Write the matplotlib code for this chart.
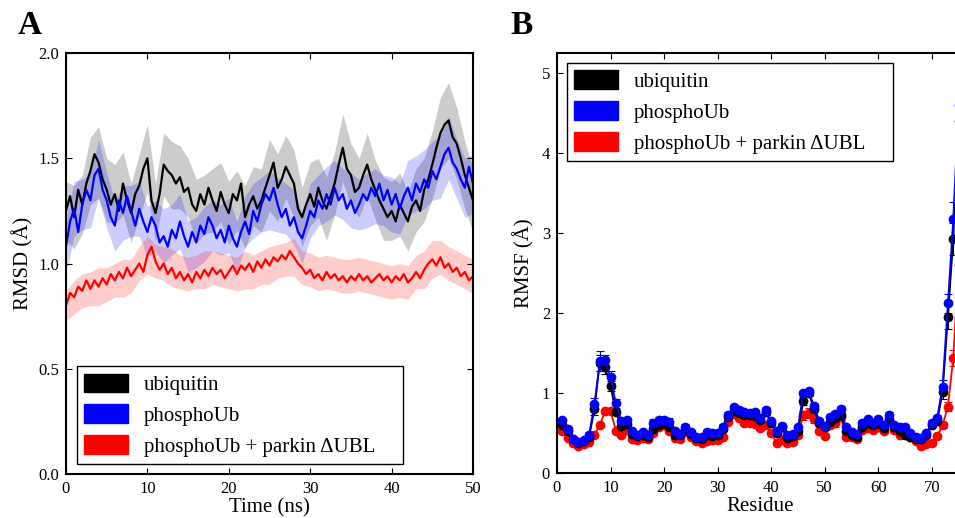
import matplotlib
matplotlib.use('Agg')
import matplotlib.pyplot as plt
from matplotlib.patches import Patch
import numpy as np

plt.rcParams['font.family'] = ['Liberation Serif', 'DejaVu Serif']
plt.rcParams['mathtext.fontset'] = 'stix'

# =========================
# Panel A data: RMSD (A) vs time (ns), every 0.5 ns
# =========================
time_ns = np.arange(0, 50.01, 0.5)

rmsd_ub = [1.25, 1.32, 1.22, 1.35, 1.28, 1.38, 1.44, 1.52, 1.48, 1.40,
           1.35, 1.28, 1.33, 1.25, 1.38, 1.30, 1.24, 1.33, 1.37, 1.45,
           1.50, 1.30, 1.24, 1.33, 1.47, 1.44, 1.42, 1.38, 1.41, 1.34,
           1.36, 1.28, 1.25, 1.33, 1.28, 1.36, 1.30, 1.25, 1.34, 1.28,
           1.24, 1.33, 1.30, 1.38, 1.22, 1.28, 1.32, 1.26, 1.30, 1.36,
           1.42, 1.48, 1.36, 1.40, 1.46, 1.42, 1.38, 1.26, 1.22, 1.28,
           1.33, 1.27, 1.36, 1.30, 1.26, 1.32, 1.38, 1.47, 1.55, 1.45,
           1.42, 1.34, 1.36, 1.42, 1.47, 1.40, 1.35, 1.30, 1.26, 1.22,
           1.25, 1.20, 1.28, 1.24, 1.20, 1.27, 1.30, 1.25, 1.35, 1.40,
           1.47, 1.55, 1.62, 1.66, 1.68, 1.60, 1.57, 1.50, 1.42, 1.36,
           1.30]

rmsd_pub = [1.08, 1.20, 1.26, 1.15, 1.28, 1.35, 1.30, 1.42, 1.45, 1.35,
            1.30, 1.22, 1.18, 1.30, 1.24, 1.32, 1.25, 1.18, 1.26, 1.20,
            1.15, 1.22, 1.18, 1.10, 1.13, 1.08, 1.16, 1.12, 1.20, 1.13,
            1.08, 1.15, 1.10, 1.18, 1.14, 1.22, 1.18, 1.12, 1.16, 1.10,
            1.18, 1.12, 1.08, 1.15, 1.20, 1.14, 1.25, 1.20, 1.28, 1.33,
            1.30, 1.36, 1.28, 1.22, 1.26, 1.18, 1.22, 1.15, 1.12, 1.18,
            1.25, 1.22, 1.30, 1.26, 1.33, 1.28, 1.36, 1.30, 1.33, 1.26,
            1.30, 1.24, 1.28, 1.33, 1.30, 1.36, 1.32, 1.38, 1.30, 1.35,
            1.28, 1.33, 1.26, 1.32, 1.36, 1.30, 1.38, 1.34, 1.40, 1.36,
            1.44, 1.40, 1.46, 1.52, 1.55, 1.48, 1.45, 1.40, 1.36, 1.46,
            1.38]

rmsd_park = [0.80, 0.86, 0.84, 0.89, 0.87, 0.92, 0.88, 0.92, 0.89, 0.93,
             0.90, 0.95, 0.92, 0.96, 0.93, 0.98, 0.94, 0.97, 1.00, 0.96,
             1.04, 1.08, 1.01, 0.97, 1.00, 0.95, 0.98, 0.93, 0.96, 0.92,
             0.95, 0.91, 0.96, 0.93, 0.97, 0.94, 0.98, 0.95, 0.97, 0.93,
             0.96, 0.99, 0.95, 0.99, 0.97, 1.00, 0.96, 1.01, 0.98, 1.02,
             0.99, 1.03, 1.01, 1.04, 1.02, 1.06, 1.03, 1.00, 0.98, 0.95,
             0.97, 0.93, 0.95, 0.92, 0.96, 0.93, 0.95, 0.92, 0.94, 0.91,
             0.94, 0.92, 0.95, 0.92, 0.94, 0.91, 0.93, 0.95, 0.92, 0.94,
             0.91, 0.94, 0.92, 0.95, 0.91, 0.93, 0.96, 0.93, 0.97, 1.00,
             1.02, 0.99, 1.03, 0.98, 1.00, 0.96, 0.98, 0.94, 0.96, 0.92,
             0.94]

# spread of the shaded bands, every 1 ns
band_t = np.arange(0, 50.01, 1.0)
sd_ub = [0.14, 0.15, 0.14, 0.16, 0.17, 0.15, 0.14, 0.15, 0.14, 0.15,
         0.16, 0.14, 0.15, 0.16, 0.15, 0.14, 0.15, 0.14, 0.15, 0.14,
         0.15, 0.14, 0.15, 0.14, 0.15, 0.17, 0.16, 0.15, 0.16, 0.14,
         0.15, 0.14, 0.15, 0.15, 0.16, 0.15, 0.14, 0.15, 0.14, 0.15,
         0.14, 0.15, 0.14, 0.15, 0.15, 0.16, 0.17, 0.18, 0.17, 0.16,
         0.15]
sd_pub = [0.12, 0.13, 0.12, 0.13, 0.14, 0.13, 0.12, 0.13, 0.12, 0.13,
          0.12, 0.12, 0.13, 0.12, 0.13, 0.12, 0.12, 0.13, 0.12, 0.12,
          0.13, 0.12, 0.12, 0.13, 0.13, 0.14, 0.13, 0.12, 0.13, 0.12,
          0.13, 0.12, 0.13, 0.13, 0.12, 0.13, 0.12, 0.13, 0.13, 0.12,
          0.13, 0.12, 0.13, 0.13, 0.14, 0.14, 0.15, 0.15, 0.14, 0.14,
          0.14]
sd_park = [0.07, 0.08, 0.08, 0.08, 0.09, 0.08, 0.08, 0.09, 0.08, 0.08,
           0.09, 0.08, 0.08, 0.09, 0.08, 0.08, 0.08, 0.09, 0.08, 0.08,
           0.08, 0.08, 0.09, 0.08, 0.08, 0.09, 0.08, 0.08, 0.09, 0.08,
           0.08, 0.08, 0.08, 0.08, 0.08, 0.08, 0.08, 0.08, 0.08, 0.08,
           0.08, 0.08, 0.08, 0.08, 0.09, 0.09, 0.08, 0.08, 0.08, 0.08,
           0.08]

# =========================
# Panel B data: RMSF (A) per residue
# =========================
residue = np.arange(1, 77)

rmsf_ub = [0.60, 0.52, 0.42, 0.38, 0.40, 0.45, 0.80, 1.38, 1.32, 1.09,
           0.76, 0.59, 0.61, 0.49, 0.46, 0.47, 0.45, 0.55, 0.60, 0.62,
           0.57, 0.48, 0.47, 0.54, 0.49, 0.44, 0.43, 0.47, 0.46, 0.47,
           0.55, 0.70, 0.77, 0.75, 0.72, 0.72, 0.71, 0.66, 0.76, 0.62,
           0.50, 0.57, 0.44, 0.46, 0.52, 0.90, 1.00, 0.80, 0.62, 0.57,
           0.64, 0.69, 0.73, 0.52, 0.47, 0.45, 0.58, 0.62, 0.60, 0.63,
           0.56, 0.67, 0.57, 0.53, 0.47, 0.45, 0.42, 0.42, 0.48, 0.60,
           0.65, 1.01, 1.95, 2.93, 4.40, 5.00]
rmsf_pub = [0.66, 0.55, 0.42, 0.39, 0.41, 0.48, 0.86, 1.40, 1.41, 1.20,
            0.87, 0.65, 0.66, 0.52, 0.48, 0.51, 0.48, 0.63, 0.66, 0.66,
            0.64, 0.52, 0.49, 0.58, 0.51, 0.45, 0.45, 0.51, 0.50, 0.50,
            0.58, 0.73, 0.82, 0.79, 0.76, 0.75, 0.76, 0.69, 0.79, 0.65,
            0.53, 0.59, 0.47, 0.49, 0.57, 1.00, 1.02, 0.84, 0.65, 0.59,
            0.70, 0.74, 0.80, 0.57, 0.51, 0.49, 0.63, 0.67, 0.63, 0.67,
            0.60, 0.73, 0.60, 0.57, 0.58, 0.50, 0.45, 0.44, 0.50, 0.63,
            0.69, 1.08, 2.12, 3.17, 4.60, 5.10]
rmsf_park = [0.53, 0.44, 0.37, 0.34, 0.36, 0.39, 0.47, 0.60, 0.77, 0.78,
             0.53, 0.48, 0.54, 0.43, 0.41, 0.44, 0.42, 0.50, 0.57, 0.60,
             0.52, 0.44, 0.42, 0.51, 0.45, 0.40, 0.38, 0.40, 0.41, 0.41,
             0.45, 0.64, 0.74, 0.69, 0.62, 0.62, 0.61, 0.56, 0.60, 0.50,
             0.38, 0.41, 0.38, 0.39, 0.48, 0.72, 0.75, 0.67, 0.52, 0.46,
             0.60, 0.62, 0.70, 0.45, 0.45, 0.43, 0.54, 0.56, 0.54, 0.57,
             0.52, 0.65, 0.54, 0.48, 0.49, 0.45, 0.40, 0.34, 0.36, 0.38,
             0.46, 0.60, 0.83, 1.44, 2.60, 3.30]

err_ub = [0.03, 0.03, 0.02, 0.02, 0.02, 0.03, 0.08, 0.10, 0.08, 0.06,
          0.04, 0.03, 0.03, 0.02, 0.02, 0.02, 0.02, 0.03, 0.03, 0.03,
          0.03, 0.02, 0.02, 0.03, 0.02, 0.02, 0.02, 0.02, 0.02, 0.02,
          0.03, 0.03, 0.03, 0.03, 0.03, 0.03, 0.03, 0.03, 0.03, 0.03,
          0.02, 0.03, 0.02, 0.02, 0.03, 0.05, 0.04, 0.04, 0.03, 0.03,
          0.03, 0.04, 0.04, 0.03, 0.02, 0.02, 0.03, 0.03, 0.03, 0.03,
          0.03, 0.03, 0.03, 0.02, 0.02, 0.02, 0.02, 0.02, 0.02, 0.03,
          0.04, 0.08, 0.15, 0.20, 0.25, 0.30]
err_pub = [0.03, 0.03, 0.02, 0.02, 0.02, 0.03, 0.08, 0.12, 0.07, 0.08,
           0.06, 0.03, 0.03, 0.02, 0.02, 0.02, 0.02, 0.04, 0.04, 0.04,
           0.05, 0.02, 0.02, 0.03, 0.02, 0.02, 0.02, 0.03, 0.02, 0.02,
           0.03, 0.03, 0.03, 0.03, 0.03, 0.03, 0.03, 0.03, 0.03, 0.03,
           0.02, 0.03, 0.02, 0.02, 0.03, 0.03, 0.03, 0.03, 0.03, 0.03,
           0.03, 0.03, 0.04, 0.03, 0.02, 0.02, 0.03, 0.03, 0.03, 0.03,
           0.03, 0.03, 0.03, 0.02, 0.02, 0.02, 0.02, 0.02, 0.02, 0.03,
           0.04, 0.08, 0.12, 0.22, 0.25, 0.30]
err_park = [0.02, 0.02, 0.02, 0.02, 0.02, 0.02, 0.03, 0.03, 0.03, 0.03,
            0.02, 0.02, 0.02, 0.02, 0.02, 0.02, 0.02, 0.02, 0.02, 0.02,
            0.02, 0.02, 0.02, 0.02, 0.02, 0.02, 0.02, 0.02, 0.02, 0.02,
            0.02, 0.03, 0.03, 0.03, 0.02, 0.02, 0.02, 0.02, 0.02, 0.02,
            0.02, 0.02, 0.02, 0.02, 0.02, 0.06, 0.06, 0.04, 0.02, 0.02,
            0.04, 0.04, 0.03, 0.02, 0.02, 0.02, 0.02, 0.02, 0.02, 0.02,
            0.02, 0.02, 0.02, 0.02, 0.02, 0.02, 0.02, 0.02, 0.02, 0.02,
            0.03, 0.04, 0.06, 0.10, 0.15, 0.20]

labels = ['ubiquitin', 'phosphoUb', 'phosphoUb + parkin ΔUBL']
colors = ['black', 'blue', 'red']

# =========================
# Figure
# =========================
fig = plt.figure(figsize=(9.55, 5.18), dpi=100)
axA = fig.add_axes([0.0691, 0.0849, 0.4262, 0.8127])
axB = fig.add_axes([0.5832, 0.0868, 0.4262, 0.8108])

# ---- Panel A ----
series_A = [(rmsd_ub, sd_ub), (rmsd_pub, sd_pub), (rmsd_park, sd_park)]
for (mean, sd), c in zip(series_A, colors):
    mean = np.array(mean)
    m1 = mean[::2]
    sd = np.array(sd)
    axA.fill_between(band_t, m1 - sd, m1 + sd, color=c, alpha=0.2, lw=0)
    axA.plot(time_ns, mean, color=c, lw=1.6)

axA.set_xlim(0, 50)
axA.set_ylim(0, 2.0)
axA.set_xticks([0, 10, 20, 30, 40, 50])
axA.set_yticks([0.0, 0.5, 1.0, 1.5, 2.0])
axA.set_yticklabels(['0.0', '0.5', '1.0', '1.5', '2.0'])
axA.set_xlabel('Time (ns)', fontsize=15, labelpad=1)
axA.set_ylabel('RMSD (Å)', fontsize=15, labelpad=3)

# ---- Panel B ----
series_B = [(rmsf_park, err_park, 'red'), (rmsf_ub, err_ub, 'black'),
            (rmsf_pub, err_pub, 'blue')]
for vals, err, c in series_B:
    axB.errorbar(residue, vals, yerr=err, color=c, ecolor=c, lw=1.3,
                 marker='o', ms=6, mec=c, mfc=c, capsize=3, elinewidth=0.8,
                 capthick=0.8)

axB.set_xlim(0, 76)
axB.set_ylim(0, 5.25)
axB.set_xticks([0, 10, 20, 30, 40, 50, 60, 70])
axB.set_yticks([0, 1, 2, 3, 4, 5])
axB.set_xlabel('Residue', fontsize=15, labelpad=1)
axB.set_ylabel('RMSF (Å)', fontsize=15, labelpad=5)

handles = [Patch(facecolor=c, edgecolor=c) for c in colors]
legend_boxes = [(axA, 'lower left', (0.027, 0.024, 0.801, 0.226)),
                (axB, 'upper left', (0.0246, 0.748, 0.801, 0.228))]
for ax, loc, box in legend_boxes:
    for sp in ax.spines.values():
        sp.set_linewidth(1.5)
    ax.tick_params(direction='in', top=True, right=True, labelsize=12,
                   length=4, width=0.8, pad=5)
    leg = ax.legend(handles, labels, loc=loc, bbox_to_anchor=box,
                    mode='expand', borderaxespad=0, fontsize=15,
                    fancybox=False, edgecolor='black', framealpha=1,
                    handlelength=2.1, handleheight=1.0, labelspacing=0.45,
                    handletextpad=0.75, borderpad=0.35)
    leg.get_frame().set_linewidth(1.0)

fig.text(0.018, 0.935, 'A', fontsize=24, fontweight='bold')
fig.text(0.535, 0.935, 'B', fontsize=24, fontweight='bold')

plt.savefig('out.png', dpi=100)
plt.close()
